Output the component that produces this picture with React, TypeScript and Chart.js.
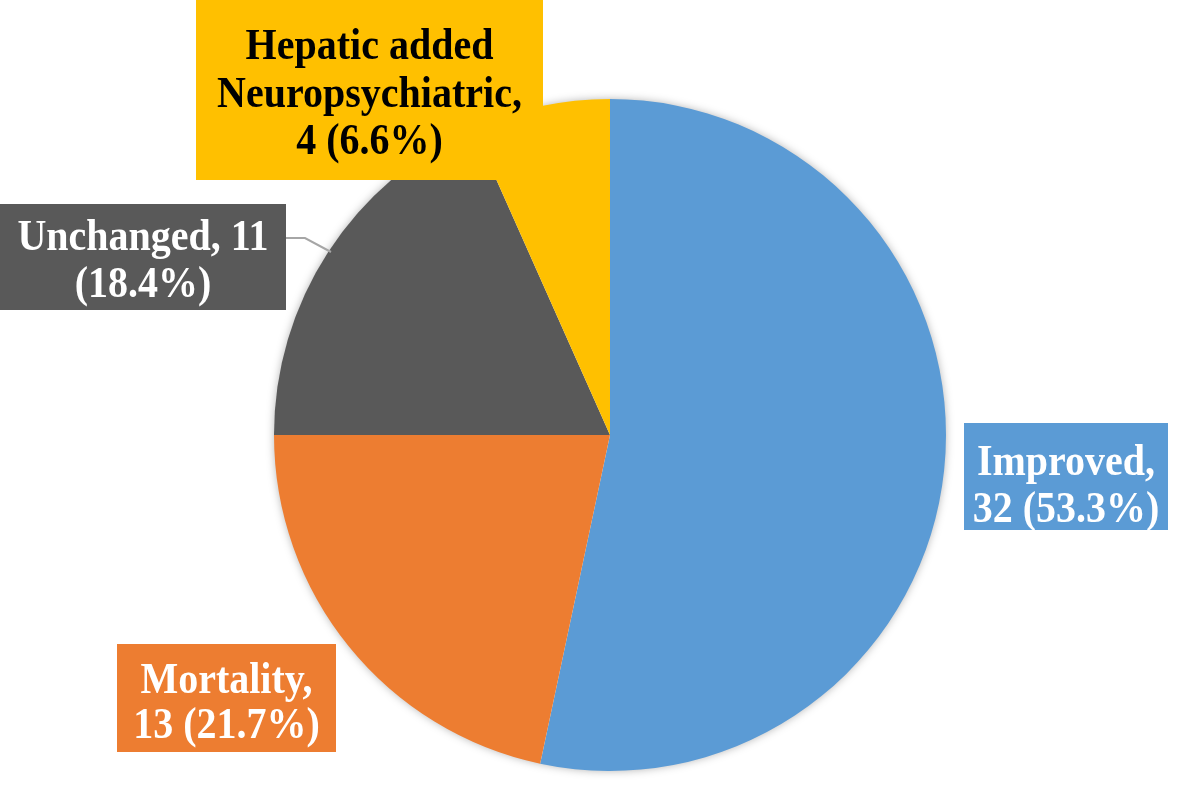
import React, { useEffect, useRef } from "react";
import { Chart, registerables } from "chart.js";

Chart.register(...registerables);

const categories = ["Improved", "Mortality", "Unchanged", "Hepatic added Neuropsychiatric"];
const counts = [32, 13, 11, 4];
const percents = ["53.3%", "21.7%", "18.4%", "6.6%"];
const colors = ["#5B9BD5", "#ED7D31", "#595959", "#FFC000"];
const textColors = ["#FFFFFF", "#FFFFFF", "#FFFFFF", "#000000"];

// label text lines (built from the data)
const labelLines: string[][] = [
  [`${categories[0]},`, `${counts[0]} (${percents[0]})`],
  [`${categories[1]},`, `${counts[1]} (${percents[1]})`],
  [`${categories[2]}, ${counts[2]}`, `(${percents[2]})`],
  ["Hepatic added", "Neuropsychiatric,", `${counts[3]} (${percents[3]})`],
];

// label box geometry (layout only)
const boxes = [
  { x: 964, y: 423, w: 204, h: 107, base: 475, lh: 47 },
  { x: 117, y: 644, w: 219, h: 108, base: 693, lh: 45 },
  { x: 0, y: 204, w: 286, h: 106, base: 250, lh: 47 },
  { x: 196, y: -2, w: 347, h: 182, base: 59, lh: 47.5 },
];

const shadowPlugin = {
  id: "pieShadow",
  beforeDatasetsDraw(chart: any) {
    const meta = chart.getDatasetMeta(0);
    const arc = meta.data[0];
    if (!arc) return;
    const { x, y, outerRadius } = arc.getProps(["x", "y", "outerRadius"], true);
    const ctx = chart.ctx;
    ctx.save();
    ctx.shadowColor = "rgba(0,0,0,0.35)";
    ctx.shadowBlur = 10;
    ctx.shadowOffsetX = 0;
    ctx.shadowOffsetY = 0;
    ctx.fillStyle = "#ffffff";
    ctx.beginPath();
    ctx.arc(x, y, outerRadius - 1, 0, Math.PI * 2);
    ctx.fill();
    ctx.restore();
  },
};

const labelPlugin = {
  id: "boxLabels",
  afterDatasetsDraw(chart: any) {
    const ctx = chart.ctx;
    ctx.save();
    // leader line for Unchanged
    ctx.strokeStyle = "#A6A6A6";
    ctx.lineWidth = 2;
    ctx.beginPath();
    ctx.moveTo(286, 238);
    ctx.lineTo(305, 238);
    ctx.lineTo(331, 252);
    ctx.stroke();

    ctx.font = "bold 40px 'Liberation Serif', 'Times New Roman', serif";
    ctx.textAlign = "center";
    ctx.textBaseline = "alphabetic";
    boxes.forEach((b, i) => {
      ctx.fillStyle = colors[i];
      ctx.fillRect(b.x, b.y, b.w, b.h);
      ctx.fillStyle = textColors[i];
      const lines = labelLines[i];
      const cx = b.x + b.w / 2;
      lines.forEach((ln, j) => {
        ctx.save();
        ctx.translate(cx, b.base + j * b.lh);
        ctx.scale(1, 1.1);
        ctx.fillText(ln, 0, 0);
        ctx.restore();
      });
    });
    ctx.restore();
  },
};

export default function App() {
  const ref = useRef<HTMLCanvasElement | null>(null);
  useEffect(() => {
    if (!ref.current) return;
    const chart = new Chart(ref.current, {
      type: "pie",
      data: {
        labels: categories,
        datasets: [
          {
            data: counts,
            backgroundColor: colors,
            borderWidth: 0,
          },
        ],
      },
      options: {
        animation: false,
        responsive: false,
        maintainAspectRatio: false,
        layout: { padding: { top: 99, bottom: 35, left: 274, right: 235 } },
        plugins: {
          legend: { display: false },
          tooltip: { enabled: false },
        },
      },
      plugins: [shadowPlugin, labelPlugin],
    });
    return () => chart.destroy();
  }, []);
  return (
    <div style={{ position: "fixed", left: 0, top: 0, width: 1181, height: 806, background: "#fff" }}>
      <canvas ref={ref} width={1181} height={806} style={{ width: 1181, height: 806 }} />
    </div>
  );
}
